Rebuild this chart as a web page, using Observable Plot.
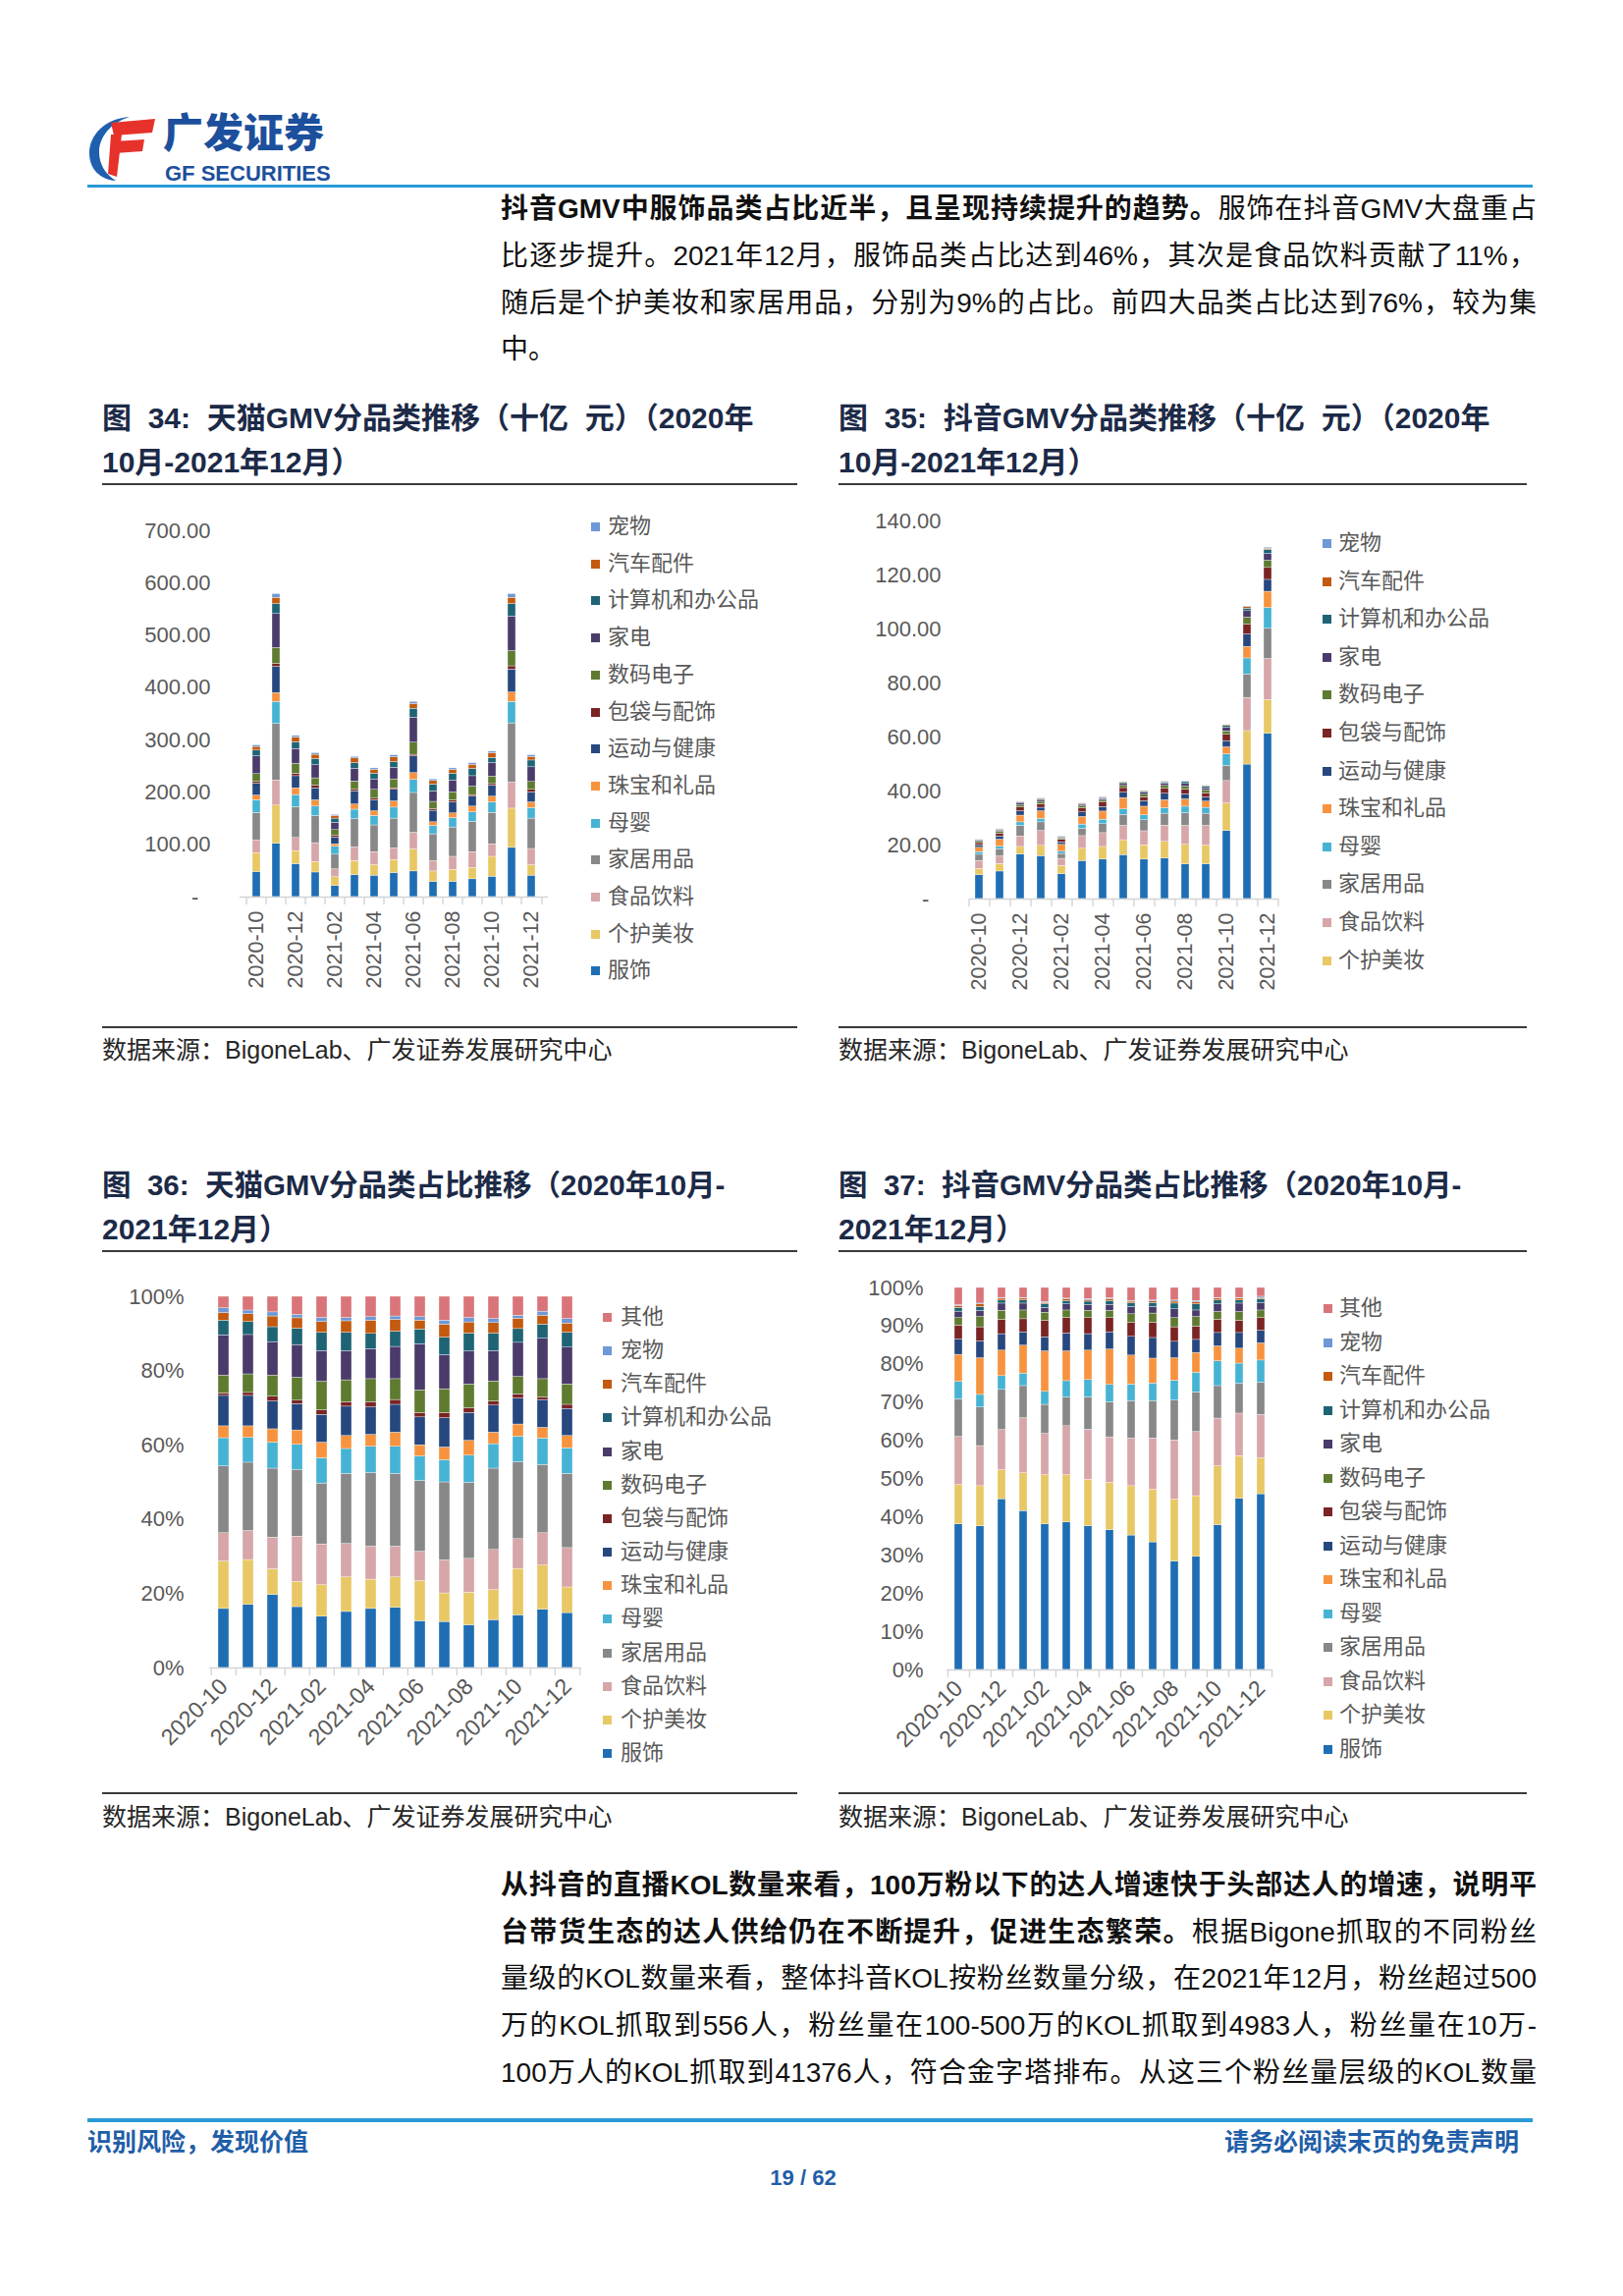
<!DOCTYPE html>
<html lang="zh-CN">
<head>
<meta charset="utf-8">
<script src="https://cdn.jsdelivr.net/npm/d3@7"></script>
<script src="https://cdn.jsdelivr.net/npm/@observablehq/plot@0.6"></script>
<style>
html,body{margin:0;padding:0;background:#fff}
body{width:1653px;height:2338px;position:relative;overflow:hidden;font-family:"Liberation Sans","Noto Sans CJK SC",sans-serif;color:#000}
.a{position:absolute}
.line{position:absolute;left:510px;width:1055px;font-size:28px;line-height:48px;height:48px;text-align:justify;text-align-last:justify;color:#111}
.line b{font-weight:700}
.title{position:absolute;font-size:30px;font-weight:700;color:#1c2a47;line-height:44px;white-space:nowrap}
.rule{position:absolute;height:2px;background:#3a3a3a}
.src{position:absolute;font-size:25px;color:#262626;line-height:28px;white-space:nowrap}
.leg{position:absolute;height:26px;font-size:22px;color:#595959;line-height:26px;white-space:nowrap}
.leg i{position:absolute;width:9px;height:9px;top:9px;left:0}
.leg span{position:absolute;top:0}
.blue{color:#1f5ea8}
</style>
</head>
<body>

<!-- header -->
<svg class="a" style="left:88px;top:116px" width="72" height="70" viewBox="0 0 72 70">
  <path d="M44 3 C18 5 3 22 3 40 C3 56 14 67 30 68 C19 61 13 51 13 39 C13 23 25 9 44 3 Z" fill="#1f5fae"/>
  <path d="M25 9 L70 5 L67 19 L28 22 Z" fill="#e6322b"/>
  <path d="M28 28 L59 26 L57 38 L29 40 Z" fill="#e6322b"/>
  <path d="M25 21 L36 21 L31 64 L22 61 Z" fill="#e6322b"/>
</svg>
<div class="a" style="left:166px;top:116px;font-size:41px;line-height:40px;height:40px;font-weight:900;color:#1c4f9c">广发证券</div>
<div class="a" style="left:168px;top:168px;font-size:22px;line-height:18px;height:18px;font-weight:700;color:#1c4f9c;white-space:nowrap">GF SECURITIES</div>
<div class="a" style="left:89px;top:188px;width:1472px;height:3px;background:#2a9ad6"></div>

<!-- paragraph 1 -->
<div class="line" style="top:189px"><b>抖音GMV中服饰品类占比近半，且呈现持续提升的趋势。</b>服饰在抖音GMV大盘重占</div>
<div class="line" style="top:237px">比逐步提升。2021年12月，服饰品类占比达到46%，其次是食品饮料贡献了11%，</div>
<div class="line" style="top:285px">随后是个护美妆和家居用品，分别为9%的占比。前四大品类占比达到76%，较为集</div>
<div class="line" style="top:332px;text-align-last:left">中。</div>

<!-- chart titles -->
<div class="title" style="left:104px;top:404px">图&nbsp;&nbsp;34:&nbsp;&nbsp;天猫GMV分品类推移（十亿&nbsp;&nbsp;元）（2020年</div>
<div class="title" style="left:104px;top:449px">10月-2021年12月）</div>
<div class="rule" style="left:104px;top:492px;width:708px"></div>
<div class="title" style="left:854px;top:404px">图&nbsp;&nbsp;35:&nbsp;&nbsp;抖音GMV分品类推移（十亿&nbsp;&nbsp;元）（2020年</div>
<div class="title" style="left:854px;top:449px">10月-2021年12月）</div>
<div class="rule" style="left:854px;top:492px;width:701px"></div>

<div class="rule" style="left:104px;top:1045px;width:708px;height:1.5px"></div>
<div class="src" style="left:104px;top:1055px">数据来源：BigoneLab、广发证券发展研究中心</div>
<div class="rule" style="left:854px;top:1045px;width:701px;height:1.5px"></div>
<div class="src" style="left:854px;top:1055px">数据来源：BigoneLab、广发证券发展研究中心</div>

<div class="title" style="left:104px;top:1185px;font-size:29.5px">图&nbsp;&nbsp;36:&nbsp;&nbsp;天猫GMV分品类占比推移（2020年10月-</div>
<div class="title" style="left:104px;top:1230px">2021年12月）</div>
<div class="rule" style="left:104px;top:1273px;width:708px"></div>
<div class="title" style="left:854px;top:1185px;font-size:29.5px">图&nbsp;&nbsp;37:&nbsp;&nbsp;抖音GMV分品类占比推移（2020年10月-</div>
<div class="title" style="left:854px;top:1230px">2021年12月）</div>
<div class="rule" style="left:854px;top:1273px;width:701px"></div>

<div class="rule" style="left:104px;top:1825px;width:708px;height:1.5px"></div>
<div class="src" style="left:104px;top:1836px">数据来源：BigoneLab、广发证券发展研究中心</div>
<div class="rule" style="left:854px;top:1825px;width:701px;height:1.5px"></div>
<div class="src" style="left:854px;top:1836px">数据来源：BigoneLab、广发证券发展研究中心</div>

<!-- paragraph 2 -->
<div class="line" style="top:1896px"><b>从抖音的直播KOL数量来看，100万粉以下的达人增速快于头部达人的增速，说明平</b></div>
<div class="line" style="top:1944px"><b>台带货生态的达人供给仍在不断提升，促进生态繁荣。</b>根据Bigone抓取的不同粉丝</div>
<div class="line" style="top:1991px">量级的KOL数量来看，整体抖音KOL按粉丝数量分级，在2021年12月，粉丝超过500</div>
<div class="line" style="top:2039px">万的KOL抓取到556人，粉丝量在100-500万的KOL抓取到4983人，粉丝量在10万-</div>
<div class="line" style="top:2087px">100万人的KOL抓取到41376人，符合金字塔排布。从这三个粉丝量层级的KOL数量</div>

<!-- footer -->
<div class="a" style="left:89px;top:2157px;width:1472px;height:4px;background:#2a9ad6"></div>
<div class="a blue" style="left:89px;top:2165px;font-size:25px;line-height:32px;font-weight:700;white-space:nowrap">识别风险，发现价值</div>
<div class="a blue" style="right:106px;top:2165px;font-size:25px;line-height:32px;font-weight:700;white-space:nowrap">请务必阅读末页的免责声明</div>
<div class="a blue" style="left:718px;width:200px;text-align:center;top:2204px;font-size:22px;line-height:28px;font-weight:700">19 / 62</div>

<div id="c34" class="a" style="left:104px;top:500px;width:480px"></div>
<div id="c35" class="a" style="left:854px;top:490px;width:480px"></div>
<div id="c36" class="a" style="left:104px;top:1280px;width:500px"></div>
<div id="c37" class="a" style="left:854px;top:1271px;width:480px"></div>

<script>
// ---------- data ----------
const months = ["2020-10","2020-11","2020-12","2021-01","2021-02","2021-03","2021-04","2021-05","2021-06","2021-07","2021-08","2021-09","2021-10","2021-11","2021-12"];
const tickMonths = ["2020-10","2020-12","2021-02","2021-04","2021-06","2021-08","2021-10","2021-12"];
const categories = ["服饰","个护美妆","食品饮料","家居用品","母婴","珠宝和礼品","运动与健康","包袋与配饰","数码电子","家电","计算机和办公品","汽车配件","宠物","其他"];
const catColors = ["#1f6eb4","#e8c865","#d6a6a9","#888888","#47b3d4","#f7933f","#26487f","#7a2424","#5e7b30","#4a3b6b","#1e6475","#c35a0f","#6e98d6","#d97579"];

// 图34 天猫GMV（十亿元），rows: 服饰 … 宠物
const tmallGMV = [
  [48,102,63,47,21,42,41,46,49,29,29,34,39,94,41],   // 服饰
  [36,73,25,20,17,27,20,25,42,20,23,22,38,75,20],    // 个护美妆
  [24,48,25,36,15,26,25,22,32,20,25,30,24,50,31],    // 食品饮料
  [53,108,59,52,28,54,51,57,76,51,56,58,60,113,58],  // 家居用品
  [24,42,23,18,15,18,18,21,25,16,18,18,20,41,20],    // 母婴
  [9,17,13,12,5,10,9,12,13,7,9,11,11,18,11],         // 珠宝和礼品
  [23,50,23,23,13,25,21,22,32,22,21,19,21,44,19],    // 运动与健康
  [3,6,5,5,3,3,3,3,3,3,4,3,3,6,5],                   // 包袋与配饰
  [15,30,19,14,11,16,17,17,23,14,15,16,14,29,15],    // 数码电子
  [34,65,28,25,14,24,20,22,48,20,23,20,26,66,28],    // 家电
  [11,19,13,12,8,11,11,11,17,13,13,14,10,24,13],     // 计算机和办公品
  [7,12,9,8,5,9,7,9,9,7,7,8,9,12,7],                 // 汽车配件
  [3,7,3,3,2,3,3,4,4,3,3,3,3,7,3]                    // 宠物
];

// 图35 抖音GMV（十亿元），rows: 服饰 … 宠物
const douyinGMV = [
  [8.8,10.2,16.5,15.9,9.2,14.1,14.6,16.3,14.6,15.0,12.8,12.9,25.2,49.8,61.2],
  [2.4,2.8,2.8,3.8,3.1,4.5,4.7,5.5,5.3,6.2,7.3,6.9,10.2,12.4,12.5],
  [2.9,2.8,3.9,5.5,2.6,4.7,5.1,5.3,5.2,6.0,7.0,7.3,8.3,12.3,15.2],
  [2.3,2.7,3.9,3.2,1.8,2.7,3.3,4.1,4.1,4.4,4.7,4.5,5.6,8.7,11.2],
  [1.0,0.9,1.3,1.3,0.8,1.6,1.7,2.0,1.8,2.1,2.4,2.2,4.3,5.9,7.7],
  [1.6,2.6,2.5,2.8,2.6,2.8,3.0,4.2,3.2,2.9,2.7,2.3,2.6,4.3,6.0],
  [0.9,1.2,1.6,1.3,0.9,1.7,1.7,2.0,2.0,2.4,1.9,1.5,2.3,4.6,4.4],
  [0.8,1.0,1.4,1.3,1.0,1.5,1.6,1.7,1.5,1.8,1.7,1.5,2.3,3.6,4.4],
  [0.5,0.7,0.8,0.9,0.5,0.7,0.7,0.8,0.9,1.1,1.1,1.1,1.3,2.6,2.7],
  [0.4,0.4,0.7,0.7,0.3,0.6,0.6,0.7,0.8,0.8,1.0,0.7,1.3,2.4,2.5],
  [0.2,0.3,0.3,0.3,0.2,0.3,0.4,0.5,0.4,0.5,0.7,0.7,0.7,0.9,1.5],
  [0.1,0.2,0.2,0.2,0.1,0.2,0.2,0.2,0.2,0.2,0.2,0.2,0.3,0.6,0.4],
  [0.05,0.05,0.07,0.08,0.07,0.04,0.12,0.09,0.08,0.09,0.14,0.17,0.13,0.22,0.4]
];

// 图36 天猫GMV占比（%），rows: 服饰 … 其他
const tmallShare = [
  [15.9,17.0,19.7,16.4,13.8,15.1,15.9,16.2,12.6,12.4,11.5,12.9,14.2,15.7,14.8],
  [12.8,12.1,6.9,6.8,8.5,9.3,7.9,8.2,10.8,7.7,8.8,8.1,12.5,11.9,6.9],
  [7.6,7.8,8.5,12.2,11.0,9.0,8.9,8.3,7.9,8.9,9.1,10.8,8.0,8.7,10.6],
  [18.0,18.4,18.6,18.0,16.4,18.9,19.8,19.6,19.1,21.0,20.5,21.9,20.7,18.4,20.0],
  [7.6,6.7,7.0,6.7,6.8,6.7,7.1,7.3,6.6,6.0,7.3,6.6,6.9,7.1,6.9],
  [3.2,3.1,3.6,3.9,4.2,3.5,3.2,3.8,3.0,3.4,4.0,3.1,3.3,2.9,3.3],
  [8.2,8.2,7.5,7.1,7.5,7.9,7.4,7.5,7.5,7.9,7.5,7.3,7.0,7.5,7.3],
  [0.7,0.8,1.3,0.9,1.2,1.2,1.4,1.3,1.2,1.4,1.3,1.1,1.1,0.7,1.1],
  [4.8,5.0,5.7,6.2,7.7,5.9,6.2,5.6,6.1,6.4,6.4,5.4,4.7,4.9,5.5],
  [10.8,10.6,9.0,8.8,8.3,7.9,8.1,8.7,12.4,9.2,8.9,8.2,9.2,10.9,9.9],
  [4.0,3.5,4.0,4.4,4.9,4.9,4.1,4.1,4.0,4.7,4.8,4.7,3.7,3.8,4.0],
  [2.0,2.1,2.9,2.8,2.9,3.1,3.6,3.2,2.4,3.5,3.0,2.8,2.8,2.4,2.5],
  [1.3,1.0,1.1,0.9,1.1,0.9,0.9,0.9,0.9,1.1,1.2,1.1,0.8,1.1,1.2],
  [3.1,3.7,4.2,4.9,5.7,5.7,5.5,5.3,5.5,6.4,5.7,6.0,5.1,4.0,6.0]
];

// 图37 抖音GMV占比（%），rows: 服饰 … 其他
const douyinShare = [
  [38.1,37.6,44.7,41.6,38.1,38.6,37.6,36.6,35.2,33.4,28.4,29.6,37.9,44.8,46.0],
  [10.3,10.5,7.6,9.9,12.9,12.4,12.2,12.4,12.9,13.8,16.2,15.9,15.4,11.2,9.4],
  [12.6,10.5,10.5,14.4,10.8,12.8,13.1,11.9,12.5,13.4,15.5,16.8,12.5,11.1,11.4],
  [9.9,10.1,10.5,8.4,7.6,7.5,8.5,9.2,9.8,9.8,10.4,10.4,8.5,7.8,8.4],
  [4.5,3.3,3.6,3.3,3.4,4.3,4.5,4.5,4.3,4.6,5.2,5.1,6.5,5.3,5.8],
  [7.1,9.6,6.7,7.3,10.6,7.8,7.7,9.3,7.6,6.5,5.9,5.2,3.9,3.9,4.5],
  [4.0,4.4,4.3,3.5,3.7,4.7,4.3,4.5,4.9,5.4,4.3,3.4,3.5,4.1,3.3],
  [3.6,3.7,3.8,3.4,4.3,4.1,4.2,3.7,3.7,4.0,3.8,3.5,3.5,3.2,3.3],
  [2.0,2.7,2.3,2.3,2.1,1.9,1.9,1.9,2.2,2.4,2.4,2.5,2.0,2.3,2.0],
  [1.7,1.6,1.9,1.8,1.3,1.6,1.5,1.5,1.9,1.7,2.3,1.7,2.0,2.2,1.9],
  [1.0,1.0,0.8,0.8,0.9,0.9,0.9,1.1,1.0,1.1,1.5,1.6,1.0,0.8,1.1],
  [0.5,0.7,0.5,0.5,0.3,0.5,0.4,0.5,0.4,0.4,0.5,0.5,0.5,0.5,0.3],
  [0.2,0.2,0.2,0.2,0.3,0.1,0.3,0.2,0.2,0.2,0.3,0.4,0.2,0.2,0.3],
  [4.5,4.1,2.6,2.6,3.7,2.8,2.9,2.7,3.4,3.3,3.3,3.4,2.6,2.6,2.3]
];

// legend item lists (top to bottom)
const legend34 = ["宠物","汽车配件","计算机和办公品","家电","数码电子","包袋与配饰","运动与健康","珠宝和礼品","母婴","家居用品","食品饮料","个护美妆","服饰"];
const legend35 = ["宠物","汽车配件","计算机和办公品","家电","数码电子","包袋与配饰","运动与健康","珠宝和礼品","母婴","家居用品","食品饮料","个护美妆"];
const legendShare = ["其他","宠物","汽车配件","计算机和办公品","家电","数码电子","包袋与配饰","运动与健康","珠宝和礼品","母婴","家居用品","食品饮料","个护美妆","服饰"];

// ---------- drawing ----------
const axisColor = "#d4d4d4";
const numFmt = d => d === 0 ? "-\u00a0\u00a0" : d.toFixed(2);
const pctFmt = d => d + "%";

function makeChart(o) {
  const data = [];
  o.rows.forEach((row, j) => row.forEach((v, i) => data.push({month: months[i], cat: categories[j], value: v})));
  const innerW = o.width - o.mL - o.mR, innerH = o.height - o.mT - o.mB;
  const step = innerW / months.length;
  const tl = o.yMax / innerH * 8;
  const chart = Plot.plot({
    width: o.width, height: o.height,
    marginLeft: o.mL, marginRight: o.mR, marginTop: o.mT, marginBottom: o.mB,
    style: {background: "transparent", overflow: "visible", fontFamily: "Liberation Sans, Arial, sans-serif"},
    x: {domain: months, paddingInner: o.pI, paddingOuter: o.pI / 2, label: null},
    y: {domain: [0, o.yMax], label: null},
    color: {domain: categories, range: catColors},
    marks: [
      Plot.ruleX(months, {x: d => d, y1: 0, y2: -tl, dx: -step / 2, stroke: axisColor, strokeWidth: 1.4}),
      Plot.ruleX(months.slice(-1), {x: d => d, y1: 0, y2: -tl, dx: step / 2, stroke: axisColor, strokeWidth: 1.4}),
      Plot.barY(data, {x: "month", y: "value", fill: "cat", stroke: "white", strokeWidth: 0.35}),
      Plot.ruleY([0], {stroke: axisColor, strokeWidth: 1.6}),
      Plot.axisY({ticks: o.yTicks, tickFormat: o.fmt, tickSize: 0, tickPadding: o.yPad, fontSize: 22, fill: "#595959"}),
      Plot.axisX({ticks: tickMonths, tickSize: 0, tickPadding: o.xPad, tickRotate: o.rot, fontSize: o.xFont, fill: "#595959"})
    ]
  });
  document.getElementById(o.id).appendChild(chart);
}

function makeLegend(items, sqX, txX, y0, stepY) {
  items.forEach((name, k) => {
    const d = document.createElement("div");
    d.className = "leg";
    d.style.left = sqX + "px";
    d.style.top = (y0 + k * stepY - 13) + "px";
    const sw = document.createElement("i");
    sw.style.background = catColors[categories.indexOf(name)];
    const t = document.createElement("span");
    t.style.left = (txX - sqX) + "px";
    t.textContent = name;
    d.appendChild(sw); d.appendChild(t);
    document.body.appendChild(d);
  });
}

makeChart({id: "c34", rows: tmallGMV, width: 480, height: 513, mL: 140, mR: 26, mT: 40, mB: 100,
  yMax: 700, yTicks: d3.range(0, 701, 100), fmt: numFmt, yPad: 30, xPad: 14, rot: -90, xFont: 21.5, pI: 0.58});
makeChart({id: "c35", rows: douyinGMV, width: 480, height: 525, mL: 133, mR: 32, mT: 40, mB: 100,
  yMax: 140, yTicks: d3.range(0, 141, 20), fmt: numFmt, yPad: 29, xPad: 14, rot: -90, xFont: 21.5, pI: 0.6});
makeChart({id: "c36", rows: tmallShare, width: 500, height: 518, mL: 109, mR: 12, mT: 40, mB: 100,
  yMax: 100, yTicks: d3.range(0, 101, 20), fmt: pctFmt, yPad: 26, xPad: 15, rot: -45, xFont: 23, pI: 0.58});
makeChart({id: "c37", rows: douyinShare, width: 480, height: 529, mL: 110, mR: 38, mT: 40, mB: 100,
  yMax: 100, yTicks: d3.range(0, 101, 10), fmt: pctFmt, yPad: 24, xPad: 15, rot: -45, xFont: 23, pI: 0.62});

makeLegend(legend34, 602, 619, 536, 37.7);
makeLegend(legend35, 1347, 1363, 553, 38.6);
makeLegend(legendShare, 614, 632, 1341, 34.15);
makeLegend(legendShare, 1348, 1364, 1332, 34.5);
</script>
</body>
</html>
